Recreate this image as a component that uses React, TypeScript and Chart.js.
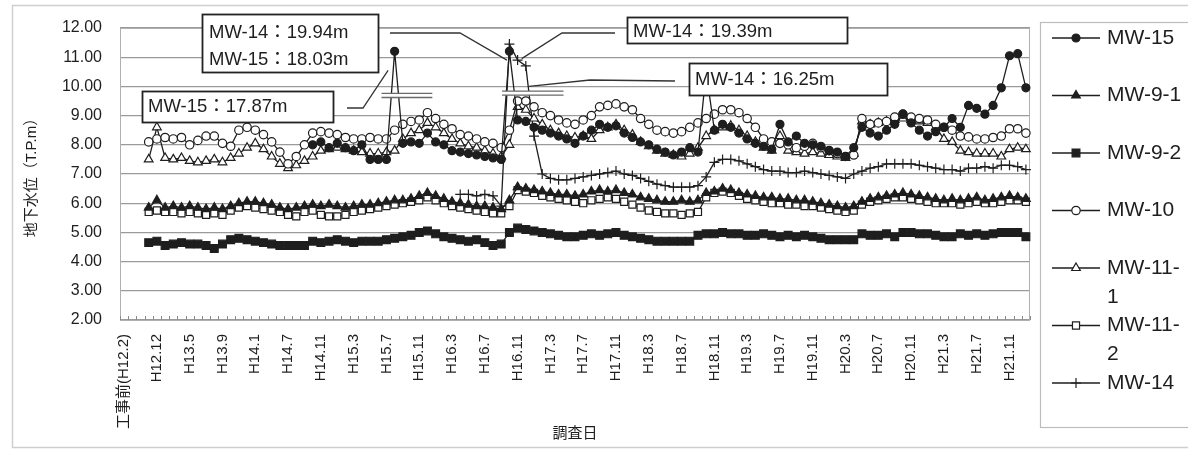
import React, { useEffect, useRef } from 'react';
import { Chart, registerables } from 'chart.js';
import { drawPoint } from 'chart.js/helpers';

Chart.register(...registerables);

const FONT = "'Liberation Sans', 'Noto Sans CJK JP', sans-serif";
const INK = '#1e1e1e';

// Every 4th survey carries a tick label
const TICK_LABELS = [
  '工事前(H12.2)', 'H12.12', 'H13.5', 'H13.9', 'H14.1', 'H14.7', 'H14.11', 'H15.3',
  'H15.7', 'H15.11', 'H16.3', 'H16.7', 'H16.11', 'H17.3', 'H17.7', 'H17.11',
  'H18.3', 'H18.7', 'H18.11', 'H19.3', 'H19.7', 'H19.11', 'H20.3', 'H20.7',
  'H20.11', 'H21.3', 'H21.7', 'H21.11',
];
const LABEL_EVERY = 4;
const SURVEY_COUNT = 111;
const CATEGORIES = Array.from({ length: SURVEY_COUNT }, (_, i) =>
  i % LABEL_EVERY === 0 ? TICK_LABELS[i / LABEL_EVERY] ?? '' : ''
);

const N = null;

const MW_15 = [
  N, N, N, N, N, N, N, N, N, N,
  N, N, N, N, N, N, N, N, N, N,
  N, N, N, 8.0, 8.1, 7.9, 8.05, 7.9, 7.8, 8.0,
  7.5, 7.5, 7.5, 11.2, 8.05, 8.1, 8.05, 8.4, 8.1, 8.0,
  7.8, 7.75, 7.7, 7.65, 7.6, 7.55, 7.5, 11.2, 8.85, 8.8,
  8.6, 8.5, 8.4, 8.3, 8.2, 8.05, 8.3, 8.5, 8.7, 8.6,
  8.65, 8.4, 8.25, 8.1, 8.0, 7.85, 7.75, 7.65, 7.75, 7.9,
  7.75, 10.5, 8.5, 8.7, 8.6, 8.4, 8.2, 8.05, 7.95, 7.85,
  8.7, 8.1, 8.3, 8.05, 8.0, 7.95, 7.8, 7.75, 7.6, 7.9,
  8.6, 8.4, 8.3, 8.5, 8.7, 9.05, 8.75, 8.5, 8.3, 8.45,
  8.6, 8.9, 8.6, 9.35, 9.25, 9.05, 9.35, 9.95, 11.05, 11.12,
  9.95,
];

const MW_9_1 = [
  N, N, N, 5.85, 6.1, 5.85, 5.9, 5.85, 5.9, 5.85,
  5.8, 5.85, 5.8, 5.9, 6.0, 6.05, 6.05, 6.0, 5.95, 5.85,
  5.8, 5.85, 5.9, 5.95, 5.9, 5.95, 5.9, 5.85, 5.9, 5.95,
  5.95, 6.0, 6.05, 6.1, 6.1, 6.15, 6.25, 6.35, 6.25, 6.15,
  6.05, 6.0, 5.95, 5.9, 5.9, 5.85, 5.8, 6.1, 6.55, 6.5,
  6.45, 6.4, 6.35, 6.3, 6.3, 6.25, 6.3, 6.4, 6.45, 6.4,
  6.45, 6.35, 6.3, 6.2, 6.15, 6.1, 6.05, 6.05, 6.1, 6.05,
  6.1, 6.35, 6.4, 6.5, 6.45, 6.35, 6.3, 6.25, 6.2, 6.2,
  6.15, 6.15, 6.1, 6.1, 6.05, 6.0, 5.95, 5.9, 5.85, 5.9,
  6.05, 6.15, 6.2, 6.25, 6.3, 6.35, 6.3, 6.25, 6.2, 6.15,
  6.1, 6.15, 6.1, 6.15, 6.2, 6.1, 6.15, 6.2, 6.25, 6.2,
  6.15,
];

const MW_9_2 = [
  N, N, N, 4.65, 4.7, 4.55, 4.6, 4.65, 4.6, 4.6,
  4.55, 4.45, 4.6, 4.75, 4.8, 4.75, 4.7, 4.65, 4.6, 4.55,
  4.55, 4.55, 4.55, 4.7, 4.65, 4.7, 4.75, 4.7, 4.65, 4.7,
  4.7, 4.7, 4.75, 4.8, 4.85, 4.9, 5.0, 5.05, 4.95, 4.85,
  4.8, 4.75, 4.7, 4.75, 4.65, 4.55, 4.6, 5.0, 5.15, 5.1,
  5.05, 5.0, 4.95, 4.9, 4.85, 4.85, 4.9, 4.95, 4.9, 4.95,
  5.0, 4.9, 4.85, 4.8, 4.75, 4.7, 4.7, 4.7, 4.7, 4.7,
  4.9, 4.95, 4.95, 5.0, 4.95, 4.95, 4.9, 4.9, 4.95, 4.9,
  4.85, 4.9, 4.85, 4.9, 4.85, 4.8, 4.75, 4.75, 4.75, 4.75,
  4.95, 4.9, 4.9, 4.95, 4.85, 5.0, 5.0, 4.95, 4.95, 4.9,
  4.85, 4.85, 4.95, 4.9, 4.95, 4.9, 4.95, 5.0, 5.0, 5.0,
  4.85,
];

const MW_10 = [
  N, N, N, 8.1, 8.2, 8.25, 8.2, 8.25, 8.0, 8.15,
  8.3, 8.3, 8.05, 7.95, 8.5, 8.6, 8.5, 8.35, 8.1, 7.75,
  7.35, 7.6, 8.0, 8.4, 8.45, 8.4, 8.35, 8.25, 8.2, 8.2,
  8.25, 8.2, 8.2, 8.5, 8.7, 8.8, 8.85, 9.1, 8.9, 8.7,
  8.55, 8.35, 8.3, 8.2, 8.1, 8.05, 7.9, 8.5, 9.5, 9.5,
  9.3, 9.1, 9.0, 8.85, 8.75, 8.7, 8.85, 9.0, 9.3, 9.35,
  9.4, 9.3, 9.2, 8.9, 8.7, 8.5, 8.45, 8.4, 8.45, 8.6,
  8.75, 8.9, 9.05, 9.2, 9.2, 9.1, 8.9, 8.6, 8.2, 8.1,
  8.05, 8.0, 7.9, 7.95, 8.05, 7.9, 7.8, 7.7, 7.6, 7.65,
  8.9, 8.7, 8.75, 8.8, 8.95, 9.05, 8.95, 8.9, 8.85, 8.7,
  8.6, 8.5, 8.3, 8.27, 8.2, 8.2, 8.25, 8.3, 8.55, 8.55,
  8.4,
];

const MW_11_1 = [
  N, N, N, 7.5, 8.6, 7.55, 7.5, 7.55, 7.45, 7.4,
  7.45, 7.5, 7.4, 7.55, 7.7, 7.9, 8.05, 7.85, 7.6, 7.35,
  7.2, 7.3, 7.45, 7.6, 7.8, 7.85, 7.9, 7.85, 7.8, 7.75,
  7.7, 7.7, 7.75, 7.8, 8.2, 8.4, 8.5, 8.75, 8.6, 8.4,
  8.2, 8.05, 7.95, 7.9, 7.8, 7.7, 7.6, 8.0, 9.3, 9.2,
  8.9, 8.7, 8.5, 8.4, 8.3, 8.25, 8.3, 8.2, 8.5, 8.6,
  8.7, 8.5, 8.35, 8.1, 7.95, 7.8, 7.7, 7.65, 7.6, 7.7,
  7.9, 8.3, 8.5, 8.6, 8.65, 8.5, 8.3, 8.1, 7.9, 7.8,
  8.3, 7.8, 7.75, 7.7, 7.75, 7.7, 7.65, 7.6, 7.55, 7.7,
  8.8, 8.7, 8.75, 8.8, 8.85, 8.9, 8.85, 8.8, 8.75, 8.6,
  8.2, 8.1, 7.8, 7.75, 7.7, 7.7, 7.7, 7.6, 7.85, 7.9,
  7.85,
];

const MW_11_2 = [
  N, N, N, 5.7, 5.75, 5.7, 5.7, 5.65, 5.7, 5.65,
  5.6, 5.65, 5.6, 5.75, 5.85, 5.9, 5.85, 5.8, 5.75, 5.7,
  5.6, 5.55, 5.7, 5.75, 5.6, 5.55, 5.55, 5.6, 5.7, 5.75,
  5.8, 5.85, 5.9, 5.95, 6.0, 6.05, 6.1, 6.2, 6.1, 6.0,
  5.9, 5.85, 5.8, 5.75, 5.7, 5.65, 5.65, 5.9, 6.45, 6.4,
  6.35, 6.25, 6.2, 6.15, 6.1, 6.05, 6.0, 6.1, 6.15, 6.2,
  6.15, 6.05, 5.95, 5.85, 5.75, 5.7, 5.65, 5.65, 5.6, 5.65,
  5.7, 6.2, 6.35, 6.4, 6.35, 6.25, 6.15, 6.1, 6.05, 6.0,
  6.0, 5.95, 5.95, 5.9, 5.9, 5.85, 5.8, 5.75, 5.7, 5.75,
  5.95, 6.05, 6.1, 6.15, 6.2, 6.2, 6.15, 6.1, 6.05, 6.0,
  6.0, 6.0, 5.95, 6.0, 6.05, 6.0, 6.0, 6.05, 6.1, 6.1,
  6.05,
];

const MW_14 = [
  N, N, N, N, N, N, N, N, N, N,
  N, N, N, N, N, N, N, N, N, N,
  N, N, N, N, N, N, N, N, N, N,
  N, N, N, N, N, N, N, N, N, N,
  N, 6.3, 6.3, 6.25, 6.3, 6.25, 5.9, 11.45, 10.9, 10.7,
  8.3, 7.0, 6.85, 6.8, 6.8, 6.85, 6.9, 6.95, 7.0, 7.05,
  7.1, 7.0, 6.95, 6.85, 6.75, 6.65, 6.6, 6.55, 6.55, 6.55,
  6.6, 6.9, 7.4, 7.5, 7.5, 7.45, 7.35, 7.25, 7.15, 7.1,
  7.1, 7.05, 7.05, 7.1, 7.05, 7.0, 6.95, 6.9, 6.85, 7.0,
  7.1, 7.2, 7.25, 7.35, 7.35, 7.35, 7.35, 7.3, 7.25, 7.2,
  7.15, 7.15, 7.1, 7.2, 7.2, 7.25, 7.2, 7.3, 7.3, 7.25,
  7.15,
];

const Y_MIN = 2;
const Y_MAX = 12;

const SERIES = [
  { label: 'MW-15', data: MW_15, pointStyle: 'circle', radius: 4, fill: INK },
  { label: 'MW-9-1', data: MW_9_1, pointStyle: 'triangle', radius: 5, fill: INK },
  { label: 'MW-9-2', data: MW_9_2, pointStyle: 'rect', radius: 5.5, fill: INK },
  { label: 'MW-10', data: MW_10, pointStyle: 'circle', radius: 4.2, fill: '#ffffff' },
  { label: 'MW-11-1', data: MW_11_1, pointStyle: 'triangle', radius: 5, fill: '#ffffff' },
  { label: 'MW-11-2', data: MW_11_2, pointStyle: 'rect', radius: 5, fill: '#ffffff' },
  { label: 'MW-14', data: MW_14, pointStyle: 'cross', radius: 5, fill: INK },
];

// Callout boxes (pixel layout) with leader targets in data units [category index, value]
const NOTES = [
  { lines: ['MW-14：19.94m', 'MW-15：18.03m'], box: [202, 14, 176, 58], lineYs: [33, 60], textX: 209,
    leader: [[390, 33], [460, 33]], target: [46.7, 10.9] },
  { lines: ['MW-15：17.87m'], box: [142, 91, 191, 31], lineYs: [107], textX: 148,
    leader: [[347, 108], [363, 108]], target: [32.2, 10.55] },
  { lines: ['MW-14：19.39m'], box: [627, 17, 220, 26], lineYs: [32], textX: 633,
    leader: [[615, 33], [562, 33]], target: [48.5, 10.95] },
  { lines: ['MW-14：16.25m'], box: [689, 63, 198, 32], lineYs: [80], textX: 695,
    leader: [[675, 81], [590, 80]], target: [49.4, 10.0] },
];

// Axis-break symbols drawn across the spikes (data units)
const BREAKS = [
  { from: 31.4, to: 37.6, hi: 9.76, lo: 9.62 },
  { from: 46.1, to: 53.6, hi: 9.84, lo: 9.7 },
];

function wrapLabel(ctx: CanvasRenderingContext2D, text: string, maxW: number): string[] {
  if (ctx.measureText(text).width <= maxW) return [text];
  const cut = text.lastIndexOf('-');
  if (cut <= 0) return [text];
  return [text.slice(0, cut + 1), text.slice(cut + 1)];
}

const decorPlugin = {
  id: 'decor',
  beforeDraw(chart: any) {
    const { ctx, width, height } = chart;
    ctx.save();
    ctx.fillStyle = '#ffffff';
    ctx.fillRect(0, 0, width, height);
    ctx.strokeStyle = '#cfcfcf';
    ctx.lineWidth = 1.5;
    ctx.strokeRect(12.5, 5.5, width, height - 9);
    ctx.restore();
  },
  beforeDatasetsDraw(chart: any) {
    const { ctx, chartArea: a } = chart;
    const xs = chart.scales.x;
    ctx.save();
    ctx.strokeStyle = '#b0b0b0';
    ctx.lineWidth = 1;
    ctx.strokeRect(a.left + 0.5, a.top + 0.5, a.width - 1, a.height);
    const step = xs.getPixelForValue(1) - xs.getPixelForValue(0);
    ctx.strokeStyle = '#8a8a8a';
    ctx.beginPath();
    for (let i = 0; i <= SURVEY_COUNT; i++) {
      const x = Math.round(xs.getPixelForValue(0) - step / 2 + i * step) + 0.5;
      ctx.moveTo(x, a.bottom);
      ctx.lineTo(x, a.bottom - 4);
    }
    ctx.stroke();
    ctx.restore();
  },
  afterDatasetsDraw(chart: any) {
    const { ctx } = chart;
    const xs = chart.scales.x;
    const ys = chart.scales.y;
    ctx.save();
    // break symbols
    BREAKS.forEach((b) => {
      const x0 = xs.getPixelForValue(b.from);
      const x1 = xs.getPixelForValue(b.to);
      const y0 = ys.getPixelForValue(b.hi);
      const y1 = ys.getPixelForValue(b.lo);
      ctx.fillStyle = '#ffffff';
      ctx.fillRect(x0, y0, x1 - x0, y1 - y0);
      ctx.strokeStyle = '#6a6a6a';
      ctx.lineWidth = 1.3;
      ctx.beginPath();
      ctx.moveTo(x0, y0); ctx.lineTo(x1, y0);
      ctx.moveTo(x0, y1); ctx.lineTo(x1, y1);
      ctx.stroke();
    });
    // callouts
    NOTES.forEach((n) => {
      ctx.strokeStyle = '#333333';
      ctx.lineWidth = 1.3;
      ctx.beginPath();
      ctx.moveTo(n.leader[0][0], n.leader[0][1]);
      for (let k = 1; k < n.leader.length; k++) ctx.lineTo(n.leader[k][0], n.leader[k][1]);
      ctx.lineTo(xs.getPixelForValue(n.target[0]), ys.getPixelForValue(n.target[1]));
      ctx.stroke();
      const [bx, by, bw, bh] = n.box;
      ctx.fillStyle = '#ffffff';
      ctx.fillRect(bx, by, bw, bh);
      ctx.strokeStyle = '#222222';
      ctx.lineWidth = 1.8;
      ctx.strokeRect(bx + 0.5, by + 0.5, bw, bh);
      ctx.fillStyle = INK;
      ctx.font = `18.5px ${FONT}`;
      ctx.textAlign = 'left';
      ctx.textBaseline = 'middle';
      n.lines.forEach((t, k) => ctx.fillText(t, n.textX, n.lineYs[k]));
    });
    ctx.restore();
  },
  afterDraw(chart: any) {
    const { ctx } = chart;
    ctx.save();
    // legend frame
    ctx.strokeStyle = '#bdbdbd';
    ctx.lineWidth = 1.2;
    ctx.strokeRect(1040.5, 22.5, 200, 405);
    ctx.font = `21px ${FONT}`;
    ctx.textAlign = 'left';
    ctx.textBaseline = 'middle';
    chart.data.datasets.forEach((ds: any, k: number) => {
      const y = 38 + k * 57.5;
      ctx.strokeStyle = INK;
      ctx.lineWidth = 1.3;
      ctx.beginPath();
      ctx.moveTo(1052, y);
      ctx.lineTo(1100, y);
      ctx.stroke();
      ctx.fillStyle = ds.pointBackgroundColor;
      ctx.strokeStyle = INK;
      ctx.lineWidth = 1.2;
      drawPoint(ctx, { pointStyle: ds.pointStyle, radius: ds.pointRadius, rotation: 0, borderWidth: 1.2 }, 1076, y);
      ctx.fillStyle = INK;
      const lines = wrapLabel(ctx, ds.label, 80);
      lines.forEach((t, j) => ctx.fillText(t, 1107, y + j * 29));
    });
    ctx.restore();
  },
};

export default function App() {
  const canvasRef = useRef<HTMLCanvasElement | null>(null);

  useEffect(() => {
    document.body.style.margin = '0';
    const canvas = canvasRef.current;
    if (!canvas) return;
    const chart = new Chart(canvas, {
      type: 'line',
      data: {
        labels: CATEGORIES,
        datasets: SERIES.map((s) => ({
          label: s.label,
          data: s.data,
          borderColor: INK,
          borderWidth: 1.3,
          pointStyle: s.pointStyle as any,
          pointRadius: s.radius,
          pointBackgroundColor: s.fill,
          pointBorderColor: INK,
          pointBorderWidth: 1.2,
          tension: 0,
          spanGaps: false,
        })),
      },
      options: {
        responsive: false,
        animation: false,
        layout: { padding: { left: 14, right: 158, top: 28, bottom: 8 } },
        plugins: {
          legend: { display: false },
          tooltip: { enabled: false },
        },
        scales: {
          x: {
            type: 'category',
            offset: true,
            grid: { display: false, drawTicks: false },
            border: { display: false },
            ticks: {
              autoSkip: false,
              maxRotation: 90,
              minRotation: 90,
              padding: 14,
              color: INK,
              font: { size: 15, family: FONT },
            },
            title: {
              display: true,
              text: '調査日',
              color: INK,
              font: { size: 15, family: FONT },
              padding: { top: 0, bottom: 0 },
            },
            afterFit: (s: any) => { s.height = 123; },
          },
          y: {
            min: Y_MIN,
            max: Y_MAX,
            grid: { color: '#9a9a9a', lineWidth: 1.2, drawTicks: false },
            border: { display: false },
            ticks: {
              stepSize: 1,
              padding: 18,
              color: INK,
              font: { size: 16, family: FONT },
              callback: (v: any) => Number(v).toFixed(2),
            },
            title: {
              display: true,
              text: '地下水位（T.P.m）',
              color: INK,
              font: { size: 15, family: FONT },
              padding: { top: 9, bottom: 0 },
            },
            afterFit: (s: any) => { s.width = 106; },
          },
        },
      },
      plugins: [decorPlugin],
    });
    return () => chart.destroy();
  }, []);

  return (
    <div style={{ width: 1188, height: 451 }}>
      <canvas ref={canvasRef} width={1188} height={451} style={{ display: 'block' }} />
    </div>
  );
}
